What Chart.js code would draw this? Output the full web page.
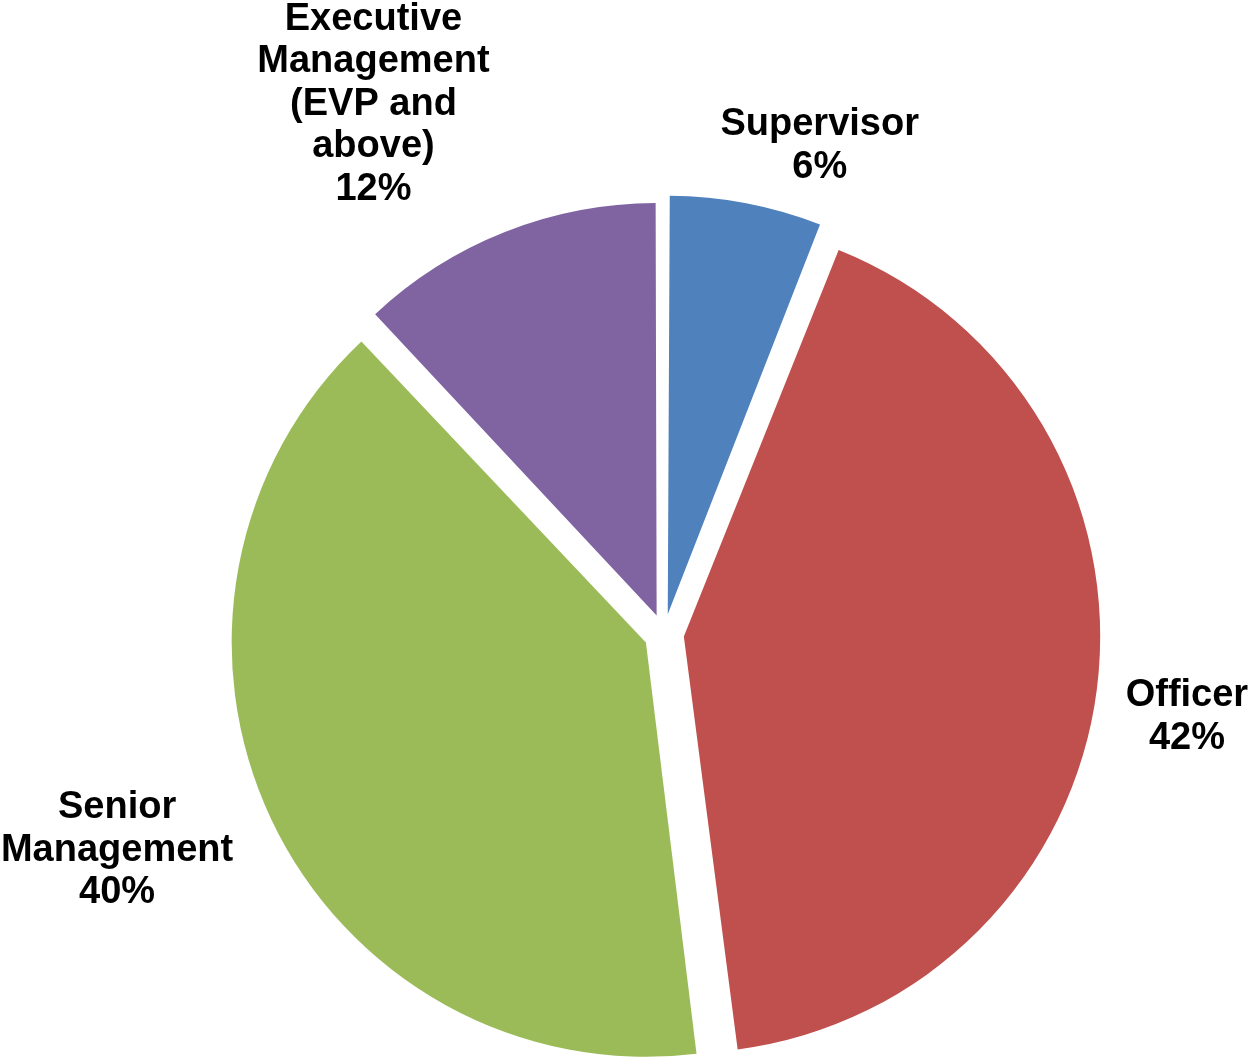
<!DOCTYPE html>
<html>
<head>
<meta charset="utf-8">
<title>Staff by level</title>
<script src="https://cdn.jsdelivr.net/npm/chart.js@4/dist/chart.umd.min.js"></script>
<style>
  html, body { margin: 0; padding: 0; background: #ffffff; }
  #wrap { width: 1248px; height: 1061px; }
</style>
</head>
<body>
<div id="wrap"><canvas id="pie" width="1248" height="1061"></canvas></div>
<script>
// Categories, in drawing order (clockwise from 12 o'clock)
const categories = ['Supervisor', 'Officer', 'Senior Management', 'Executive Management (EVP and above)'];
// Label text, wrapped as it is printed beside each slice
const categoryLines = [
  ['Supervisor'],
  ['Officer'],
  ['Senior', 'Management'],
  ['Executive', 'Management', '(EVP and', 'above)']
];
// Share of staff, percent
const shares = [6, 42, 40, 12];
const sliceColors = ['#4F81BD', '#C0504D', '#9BBB59', '#8064A2'];

// Where each label sits: turn (degrees, clockwise) from the slice's middle, and distance from the pie centre
const labelTurn = [6.8, 1.5, 3.9, -7.0];
const labelDistance = [515, 529, 587, 607];

const sliceLabels = {
  id: 'sliceLabels',
  afterDatasetsDraw(chart) {
    const ctx = chart.ctx;
    const meta = chart.getDatasetMeta(0);
    const total = shares.reduce((a, b) => a + b, 0);
    ctx.save();
    ctx.font = 'bold 38px "Liberation Sans", Arial, sans-serif';
    ctx.fillStyle = '#000000';
    ctx.textAlign = 'center';
    ctx.textBaseline = 'alphabetic';
    const lineH = 42.5;
    const capHalf = 13.5; // half the cap height, so each line is centred on its letters
    meta.data.forEach((arc, i) => {
      const p = arc.getProps(['x', 'y', 'startAngle', 'endAngle'], true);
      const mid = (p.startAngle + p.endAngle) / 2 + labelTurn[i] * Math.PI / 180;
      const cx = p.x + Math.cos(mid) * labelDistance[i];
      const cy = p.y + Math.sin(mid) * labelDistance[i];
      const lines = categoryLines[i].concat([Math.round(shares[i] / total * 100) + '%']);
      const top = cy - (lines.length - 1) * lineH / 2;
      lines.forEach((t, k) => ctx.fillText(t, cx, top + k * lineH + capHalf));
    });
    ctx.restore();
  }
};

new Chart(document.getElementById('pie'), {
  type: 'pie',
  data: {
    labels: categories,
    datasets: [{
      data: shares,
      backgroundColor: sliceColors,
      borderWidth: 0,
      offset: 80,
      radius: 406
    }]
  },
  options: {
    responsive: false,
    animation: false,
    layout: { padding: { left: 80, right: 0, top: 207, bottom: 0 } },
    plugins: {
      legend: { display: false },
      tooltip: { enabled: false }
    }
  },
  plugins: [sliceLabels]
});
</script>
</body>
</html>
